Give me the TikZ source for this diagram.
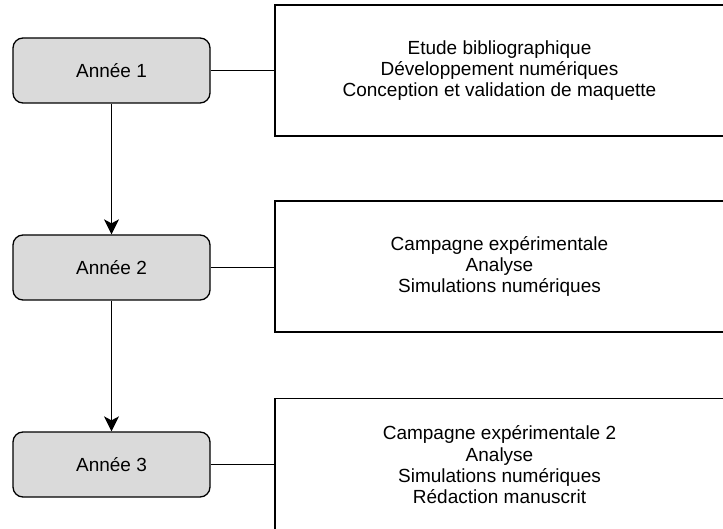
\documentclass[tikz,border=0pt]{standalone}
\usepackage{fontspec}
\setmainfont{Liberation Sans}
\usetikzlibrary{arrows.meta}
\definecolor{boxgray}{RGB}{218,218,218}
\tikzset{
  year/.style={draw=black, line width=1.3pt, fill=boxgray, rounded corners=10pt,
    minimum width=197pt, minimum height=65pt, inner sep=0pt,
    font=\fontsize{19}{21.3}\selectfont},
  task/.style={draw=black, line width=1.3pt, fill=white,
    minimum width=449pt, minimum height=131pt, inner sep=0pt, align=center,
    font=\fontsize{19}{21.3}\selectfont},
  link/.style={line width=1.3pt},
  flow/.style={line width=1.3pt, -{Stealth[length=15pt,width=15pt,inset=4pt]}}
}
\begin{document}
\begin{tikzpicture}[x=1pt,y=-1pt]
\useasboundingbox (0,0) rectangle (723,529);
\node[year] (a1) at (111.5,70.5) {Année 1};
\node[year] (a2) at (111.5,267.5) {Année 2};
\node[year] (a3) at (111.5,464.5) {Année 3};
\node[task] (t1) at (499.5,70.5) {Etude bibliographique\\Développement numériques\\Conception et validation de maquette};
\node[task] (t2) at (499.5,266.5) {Campagne expérimentale\\Analyse\\Simulations numériques};
\node[task, minimum height=133pt] (t3) at (499.5,465) {Campagne expérimentale 2\\Analyse\\Simulations numériques\\Rédaction manuscrit};
\draw[link] (a1.east) -- (t1.west |- a1.east);
\draw[link] (a2.east) -- (t2.west |- a2.east);
\draw[link] (a3.east) -- (t3.west |- a3.east);
\draw[flow] (a1.south) -- (a2.north);
\draw[flow] (a2.south) -- (a3.north);
\end{tikzpicture}
\end{document}
